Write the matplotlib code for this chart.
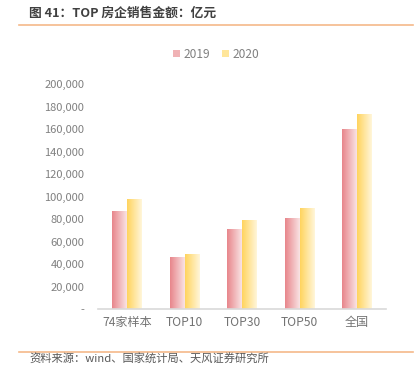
import numpy as np
import matplotlib
matplotlib.use("Agg")
import matplotlib.pyplot as plt
from matplotlib.colors import LinearSegmentedColormap
from matplotlib.patches import Patch
from matplotlib.ticker import FuncFormatter

plt.rcParams['font.family'] = ['Noto Sans CJK SC', 'DejaVu Sans']

categories = ["74家样本", "TOP10", "TOP30", "TOP50", "全国"]
series_names = ["2019", "2020"]
sales_2019 = [87500, 46400, 71400, 81200, 159700]
sales_2020 = [98200, 49100, 79500, 90200, 173600]

grad_2019 = LinearSegmentedColormap.from_list("g19", ["#E8868B", "#F9E3E4"])
grad_2020 = LinearSegmentedColormap.from_list("g20", ["#FFD45E", "#FFF6DA"])

fig = plt.figure(figsize=(4.16, 3.81), dpi=100)
ax = fig.add_axes([0.236, 0.189, 0.692, 0.590])

x = np.arange(len(categories))
w = 0.26
bars19 = ax.bar(x - w / 2, sales_2019, w, color="none")
bars20 = ax.bar(x + w / 2, sales_2020, w, color="none")

# horizontal gradient fill inside each bar
grad = np.linspace(0, 1, 64).reshape(1, -1)
for bars, cmap in [(bars19, grad_2019), (bars20, grad_2020)]:
    for b in bars:
        x0, y0 = b.get_x(), b.get_y()
        im = ax.imshow(grad, cmap=cmap, aspect="auto",
                       extent=[x0, x0 + b.get_width(), y0, y0 + b.get_height()],
                       zorder=2)
        im.set_clip_path(b)

ax.set_xlim(-0.5, len(categories) - 0.5)
ax.set_ylim(0, 200000)
ax.set_yticks(np.arange(0, 200001, 20000))
ax.yaxis.set_major_formatter(FuncFormatter(lambda v, p: "-" if v == 0 else f"{int(v):,}"))
ax.set_xticks(x)
ax.set_xticklabels(categories)

for s in ["top", "right", "left"]:
    ax.spines[s].set_visible(False)
ax.spines["bottom"].set_color("#D9D9D9")
ax.spines["bottom"].set_linewidth(1.2)
ax.tick_params(axis="y", length=0, pad=10, labelsize=8, labelcolor="#808080")
ax.tick_params(axis="x", length=0, pad=5, labelsize=8.7, labelcolor="#737373")

handles = [Patch(facecolor="#F0B2B5", label="2019"),
           Patch(facecolor="#FFE69A", label="2020")]
fig.legend(handles=handles, loc="center", bbox_to_anchor=(0.52, 0.858), ncol=2,
           frameon=False, fontsize=8.6, handlelength=0.6, handleheight=0.6,
           handletextpad=0.3, columnspacing=1.0, labelcolor="#808080")

fig.text(0.07, 0.965, "图 41：TOP 房企销售金额：亿元", fontsize=9.2, fontweight="bold",
         color="#404040", va="center")
fig.add_artist(plt.Line2D([0.045, 0.993], [0.935, 0.935], color="#F5B98A", lw=1.2))
fig.add_artist(plt.Line2D([0.045, 0.993], [0.076, 0.076], color="#F5B98A", lw=1.2))
fig.text(0.07, 0.058, "资料来源：wind、国家统计局、天风证券研究所", fontsize=8.1,
         color="#595959", va="center")

fig.savefig("out.png", dpi=100)
